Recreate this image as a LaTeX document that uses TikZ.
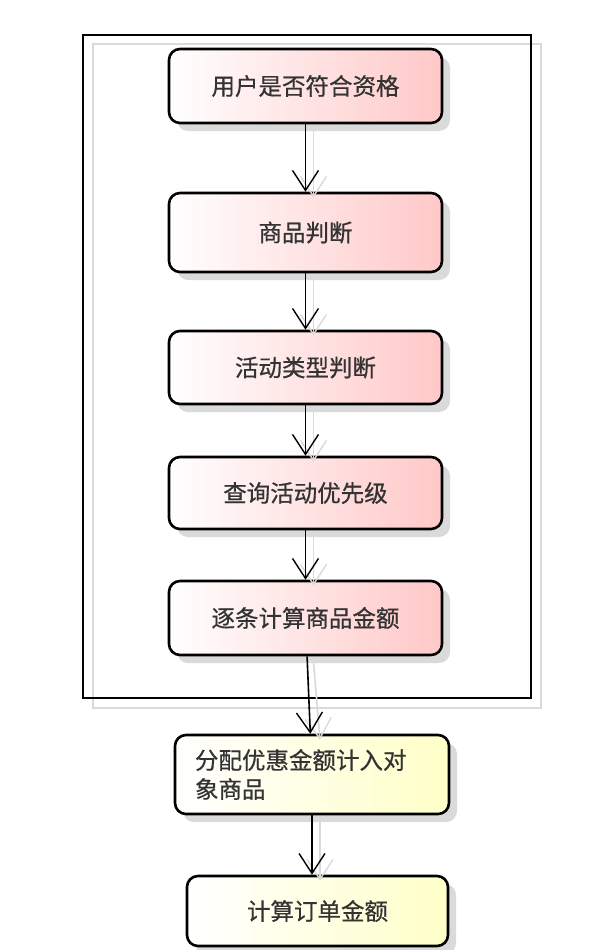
\documentclass[tikz,border=0pt]{standalone}
\usepackage{fontspec}
\setmainfont{Noto Sans CJK SC}[FakeBold=0.6]
\usetikzlibrary{arrows.meta,shadows}
\definecolor{pinkR}{RGB}{255,200,200}
\definecolor{yelR}{RGB}{255,255,200}
\definecolor{shd}{RGB}{218,218,218}
\tikzset{
  act/.style={draw=black, line width=2.6pt, rounded corners=11pt,
    shading=axis, left color=white, shading angle=90,
    font=\fontsize{23.5}{29}\selectfont, text=black!80,
    drop shadow={shadow xshift=8pt, shadow yshift=-8pt, fill=shd, opacity=1},
    inner sep=0pt},
  pinkbox/.style={act, left color=white, right color=pinkR},
  yelbox/.style={act, left color=white, right color=yelR},
  conn/.style={draw=black, line width=1.6pt,
    -{Straight Barb[length=20pt,width=26pt,line width=1.4pt]}},
  shconn/.style={draw=shd, line width=1.6pt,
    -{Straight Barb[length=20pt,width=26pt,line width=1.4pt]}},
}
\begin{document}
\begin{tikzpicture}[x=1pt,y=-1pt]
\useasboundingbox (0,0) rectangle (598,950);
\fill[white] (0,0) rectangle (598,950);
% frame
\draw[shd, line width=1.5pt] (93,44) rectangle (541,708);
\draw[black, line width=1.5pt] (83,35) rectangle (531,698);
% boxes
\node[pinkbox, minimum width=273pt, minimum height=74pt] (b1) at (305.5,86) {用户是否符合资格};
\node[pinkbox, minimum width=273pt, minimum height=79pt] (b2) at (305.5,232.5) {商品判断};
\node[pinkbox, minimum width=273pt, minimum height=73pt] (b3) at (305.5,367.5) {活动类型判断};
\node[pinkbox, minimum width=273pt, minimum height=72pt] (b4) at (305.5,493) {查询活动优先级};
\node[pinkbox, minimum width=273pt, minimum height=74pt] (b5) at (305.5,618) {逐条计算商品金额};
\node[yelbox, minimum width=274pt, minimum height=79pt, align=left, text width=234pt] (b6) at (312,774.5) {分配优惠金额计入对\\象商品};
\node[yelbox, minimum width=261pt, minimum height=70pt] (b7) at (317.5,911) {计算订单金额};
% shadow connectors
\draw[shconn] ([shift={(8,6)}]b1.south) -- ([shift={(8,6)}]b2.north);
\draw[shconn] ([shift={(8,6)}]b2.south) -- ([shift={(8,6)}]b3.north);
\draw[shconn] ([shift={(8,6)}]b3.south) -- ([shift={(8,6)}]b4.north);
\draw[shconn] ([shift={(8,6)}]b4.south) -- ([shift={(8,6)}]b5.north);
\draw[shconn] ([shift={(8,6)}]b5.south) -- ([shift={(8,6)}]b6.north);
\draw[shconn] ([shift={(8,6)}]b6.south) -- ([shift={(8,6)}]b6.south |- b7.north);
% connectors
\draw[conn] (b1) -- (b2);
\draw[conn] (b2) -- (b3);
\draw[conn] (b3) -- (b4);
\draw[conn] (b4) -- (b5);
\draw[conn] (b5) -- (b6);
\draw[conn] (b6) -- (b6 |- b7.north);
\end{tikzpicture}
\end{document}
